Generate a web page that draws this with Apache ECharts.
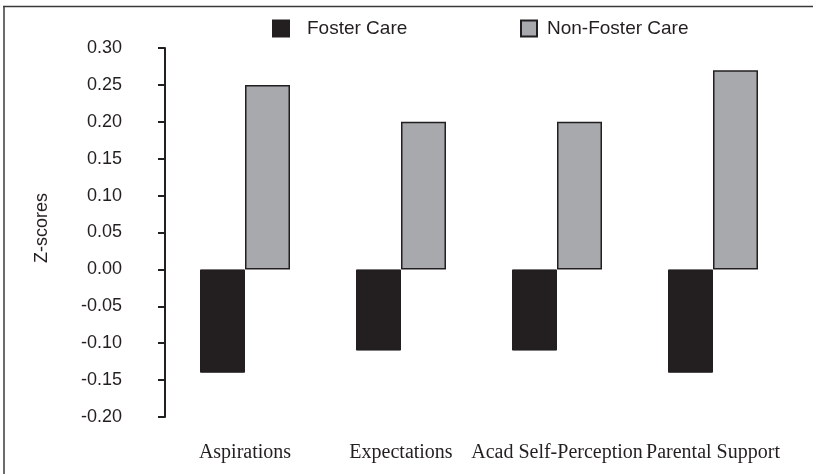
<!DOCTYPE html>
<html>
<head>
<meta charset="utf-8">
<script src="https://cdn.jsdelivr.net/npm/echarts@6/dist/echarts.min.js"></script>
<style>
  html, body { margin: 0; padding: 0; background: #fff; }
  #chart { width: 813px; height: 474px; }
</style>
</head>
<body>
<div id="chart"></div>
<script>
// data
const categories = ['Aspirations', 'Expectations', 'Acad Self-Perception', 'Parental Support'];
const fosterCare = [-0.14, -0.11, -0.11, -0.14];
const nonFosterCare = [0.25, 0.20, 0.20, 0.27];
const seriesNames = ['Foster Care', 'Non-Foster Care'];
const yTitle = 'Z-scores';

const ink = '#231f20';
const grey = '#a7a9ac';

const chart = echarts.init(document.getElementById('chart'));

const legendBase = {
  top: 19,
  padding: 0,
  icon: 'rect',
  itemWidth: 16,
  itemHeight: 16
};

const option = {
  backgroundColor: '#fff',
  animation: false,
  grid: {
    left: 167,
    right: 22,
    top: 48,
    bottom: 57
  },
  legend: [
    Object.assign({}, legendBase, {
      data: [seriesNames[0]],
      left: 272,
      textStyle: { fontFamily: 'Liberation Sans', fontSize: 19, color: ink, padding: [0, 0, 0, 13] }
    }),
    Object.assign({}, legendBase, {
      data: [seriesNames[1]],
      left: 520,
      textStyle: { fontFamily: 'Liberation Sans', fontSize: 19, color: ink, padding: [0, 0, 0, 5] }
    })
  ],
  xAxis: {
    type: 'category',
    data: categories,
    axisLine: { show: false },
    axisTick: { show: false },
    axisLabel: {
      margin: 26,
      interval: 0,
      fontFamily: 'Liberation Serif',
      fontSize: 20,
      lineHeight: 20,
      color: ink
    }
  },
  yAxis: {
    type: 'value',
    min: -0.2,
    max: 0.3,
    interval: 0.05,
    offset: 2,
    axisLine: { show: true, lineStyle: { color: ink, width: 2 } },
    axisTick: { show: true, length: 7, lineStyle: { color: ink, width: 2 } },
    splitLine: { show: false },
    axisLabel: {
      margin: 43,
      fontFamily: 'Liberation Sans',
      fontSize: 18,
      color: ink,
      formatter: v => v.toFixed(2)
    }
  },
  series: [
    {
      name: seriesNames[0],
      type: 'bar',
      data: fosterCare,
      barWidth: 45,
      barGap: '0%',
      itemStyle: { color: ink, borderColor: ink, borderWidth: 1 }
    },
    {
      name: seriesNames[1],
      type: 'bar',
      data: nonFosterCare,
      barWidth: 45,
      barGap: '0%',
      itemStyle: { color: grey, borderColor: ink, borderWidth: 1.5 }
    }
  ],
  graphic: [
    {
      type: 'line',
      shape: { x1: 3, y1: 6.5, x2: 813, y2: 6.5 },
      style: { stroke: '#3a3a3a', lineWidth: 1.5 }
    },
    {
      type: 'line',
      shape: { x1: 4, y1: 6, x2: 4, y2: 474 },
      style: { stroke: '#3a3a3a', lineWidth: 1.5 }
    },
    {
      // y axis title, rotated
      type: 'text',
      x: 42,
      y: 228,
      rotation: Math.PI / 2,
      style: {
        text: yTitle,
        fontFamily: 'Liberation Sans',
        fontSize: 18,
        fill: ink,
        align: 'center',
        verticalAlign: 'middle'
      }
    }
  ]
};

chart.setOption(option);
window.addEventListener('resize', () => chart.resize());
</script>
</body>
</html>
